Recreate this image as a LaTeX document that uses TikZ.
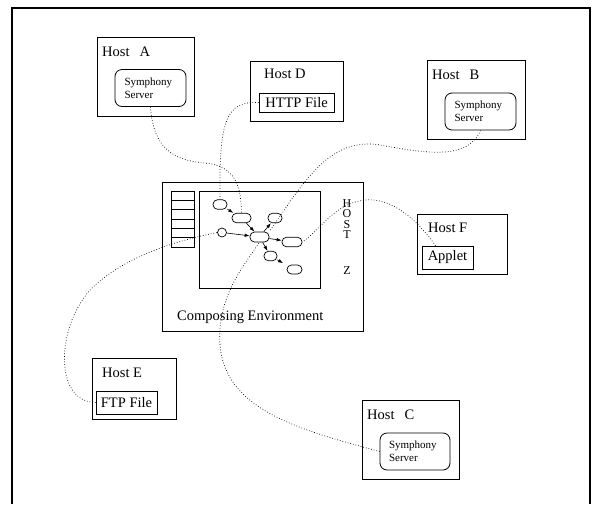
\documentclass[tikz,border=0pt]{standalone}
\usepackage{fontspec}
\setmainfont{Liberation Serif}
\usetikzlibrary{arrows.meta}
\usetikzlibrary{calc}

\newcommand\hostfont{\fontsize{14.5}{17}\selectfont}

\begin{document}
\begin{tikzpicture}[x=1pt,y=-1pt,
    box/.style={draw, line width=0.8pt, inner sep=0pt},
    server/.style={draw, line width=0.8pt, rounded corners=7pt,
        minimum width=71pt, minimum height=37pt, text width=52pt,
        align=left, inner sep=0pt, font=\fontsize{11}{13}\selectfont},
    filebox/.style={draw, line width=0.8pt, inner sep=0pt, font=\hostfont},
    hostlabel/.style={anchor=west, inner sep=0pt, font=\hostfont},
    letter/.style={anchor=base, inner sep=0pt, font=\fontsize{12}{10}\selectfont},
    comp/.style={draw, line width=0.7pt, rounded corners=4.5pt,
        minimum height=9.5pt, inner sep=0pt},
    flow/.style={-{Latex[length=5pt,width=3.5pt]}, line width=0.6pt},
    link/.style={dotted, line width=0.7pt}]

        \useasboundingbox (0,0) rectangle (594,504);
        \draw[line width=1.2pt] (12,504) -- (12,8) -- (590,8) -- (590,504);

        % hosts
        \node[box, minimum width=97pt, minimum height=79pt] (hostA) at (145.5,76.5) {};
        \node[hostlabel] (labA) at (102,52) {Host\hspace{0.7em}A};
        \node[server] (srvA) at (150.5,88) {Symphony\\Server};

        \node[box, minimum width=93pt, minimum height=60pt] (hostD) at (296.5,91) {};
        \node[hostlabel] (labD) at (264,74) {Host D};
        \node[filebox, minimum width=75pt, minimum height=19pt] (http) at (296.5,102.5) {HTTP File};

        \node[box, minimum width=98pt, minimum height=79pt] (hostB) at (476,99.5) {};
        \node[hostlabel] (labB) at (432,75) {Host\hspace{0.7em}B};
        \node[server] (srvB) at (480.5,111.5) {Symphony\\Server};

        \node[box, minimum width=90pt, minimum height=60pt] (hostF) at (462,244) {};
        \node[hostlabel] (labF) at (428,228) {Host F};
        \node[filebox, minimum width=51pt, minimum height=23pt] (applet) at (447.5,257.5) {Applet};

        \node[box, minimum width=84pt, minimum height=61pt] (hostE) at (134,388.5) {};
        \node[hostlabel] (labE) at (102,373) {Host E};
        \node[filebox, minimum width=61pt, minimum height=23pt] (ftp) at (126.5,402.5) {FTP File};

        \node[box, minimum width=97pt, minimum height=79pt] (hostC) at (410.5,439.5) {};
        \node[hostlabel] (labC) at (367,415) {Host\hspace{0.7em}C};
        \node[server, minimum width=70pt] (srvC) at (415,451.5) {Symphony\\Server};

        % composing environment on host Z
        \node[box, minimum width=201pt, minimum height=149pt] (env) at (262.5,256.5) {};
        \node[box, minimum width=121pt, minimum height=97pt] (canvas) at (259.5,239.5) {};
        \node[box, minimum width=23pt, minimum height=56pt] (stack) at (182.5,219) {};
        \foreach \i in {1,...,5}
            \draw[line width=0.8pt] (171,191+\i*9.33) -- (194,191+\i*9.33);
        \node[letter] (zH) at (347,207) {H};
        \node[letter] (zO) at (347,217.5) {O};
        \node[letter] (zS) at (347,228) {S};
        \node[letter] (zT) at (347,238.5) {T};
        \node[letter] (zZ) at (347,274) {Z};
        \node[hostlabel] (envlab) at (177,317) {Composing Environment};

        \node[comp, minimum width=14pt] (n1) at (220,204.5) {};
        \node[comp, minimum width=19pt] (n2) at (241.5,218) {};
        \node[comp, minimum width=19pt, minimum height=10pt] (n3) at (259.5,237) {};
        \node[draw, line width=0.7pt, circle, inner sep=0pt, minimum size=9pt] (n4) at (222,232.5) {};
        \node[comp, minimum width=14pt] (n5) at (275,218) {};
        \node[comp, minimum width=20pt] (n6) at (292,242) {};
        \node[comp, minimum width=13pt] (n7) at (270.5,256) {};
        \node[comp, minimum width=15pt, minimum height=9pt] (n8) at (294.5,269.5) {};

        \draw[flow] (n1) -- (n2);
        \draw[flow] (n2) -- (n3);
        \draw[flow] (n4) -- (n3);
        \draw[flow] (n3) -- (n5);
        \draw[flow] (n3) -- (n6);
        \draw[flow] (n3) -- (n7);
        \draw[flow, shorten >=4pt] (n7) -- (n8);

        % links to the hosts
        \draw[link] (srvA.south) .. controls (153,140) and (165,160) .. (205,163)
            .. controls (235,166) and (241,185) .. (n2.north);
        \draw[link] (http.west) .. controls (226,101) and (219,120) .. (n1.north);
        \draw[link] (srvB.south) .. controls (468,162) and (420,152) .. (380,145)
            .. controls (330,137) and (305,180) .. (n3.north east);
        \draw[link] ([xshift=-12pt]applet.north) .. controls (410,210) and (385,198) .. (365,200)
            .. controls (335,203) and (320,230) .. (n6.east);
        \draw[link] (ftp.west) .. controls (55,402) and (55,330) .. (90,290)
            .. controls (125,255) and (180,240) .. (n4.west);
        \draw[link] (srvC.west) .. controls (300,430) and (225,410) .. (220,345)
            .. controls (217,300) and (240,270) .. (n3.south);

\end{tikzpicture}
\end{document}
